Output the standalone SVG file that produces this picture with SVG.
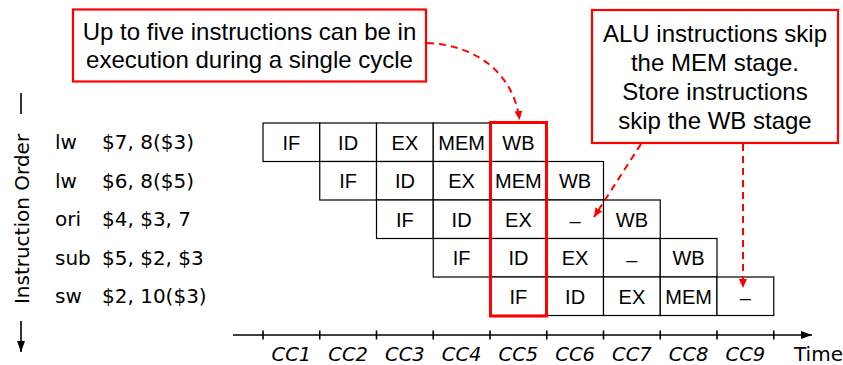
<svg xmlns="http://www.w3.org/2000/svg" width="843" height="365" viewBox="0 0 843 365">
  <style>
    .cell { fill: #ffffff; stroke: #000000; stroke-width: 1.2; }
    .stage { font-family: "Liberation Sans", Arial, sans-serif; font-size: 20px; fill: #000; text-anchor: middle; }
    .note { font-family: "Liberation Sans", Arial, sans-serif; font-size: 24px; fill: #000; text-anchor: middle; }
    .hand { font-family: "Comic Sans MS", "DejaVu Sans", sans-serif; font-size: 20px; fill: #000; }
    .cc { font-family: "Comic Sans MS", "DejaVu Sans", sans-serif; font-size: 19.5px; font-style: italic; fill: #000; text-anchor: middle; }
    .callout { fill: #ffffff; stroke: #ff0000; stroke-width: 2.2; }
    .dash { fill: none; stroke: #ff0000; stroke-width: 2; stroke-dasharray: 7 5; }
    .axis { stroke: #000; stroke-width: 1.6; fill: none; }
  </style>
  <defs>
    <marker id="redHead" markerUnits="userSpaceOnUse" markerWidth="10" markerHeight="10" viewBox="0 0 10 10" refX="9" refY="5" orient="auto">
      <path d="M0,1 L9,5 L0,9 Z" fill="#ff0000"/>
    </marker>
    <marker id="blackHead" markerUnits="userSpaceOnUse" markerWidth="12" markerHeight="10" viewBox="0 0 12 10" refX="11" refY="5" orient="auto">
      <path d="M0,1 L11,5 L0,9 Z" fill="#000"/>
    </marker>
  </defs>

  <!-- vertical "Instruction Order" axis -->
  <g id="instruction-order">
    <line class="axis" x1="21" y1="93" x2="21" y2="114"/>
    <text class="hand" transform="translate(29,219) rotate(-90)" text-anchor="middle" font-size="21">Instruction Order</text>
    <line class="axis" x1="21" y1="321" x2="21" y2="352" marker-end="url(#blackHead)"/>
  </g>

  <!-- instruction listing -->
  <g id="instructions">
    <text class="hand" x="55" y="149">lw</text><text class="hand" x="102" y="149">$7, 8($3)</text>
    <text class="hand" x="55" y="187.5">lw</text><text class="hand" x="102" y="187.5">$6, 8($5)</text>
    <text class="hand" x="55" y="226">ori</text><text class="hand" x="102" y="226">$4, $3, 7</text>
    <text class="hand" x="55" y="264.5">sub</text><text class="hand" x="102" y="264.5">$5, $2, $3</text>
    <text class="hand" x="55" y="303">sw</text><text class="hand" x="102" y="303">$2, 10($3)</text>
  </g>

  <!-- pipeline rows: column width 56.75, row height 38.5 -->
  <g id="row-lw1">
    <rect class="cell" x="263" y="123" width="56.75" height="38.5"/>
    <rect class="cell" x="319.75" y="123" width="56.75" height="38.5"/>
    <rect class="cell" x="376.5" y="123" width="56.75" height="38.5"/>
    <rect class="cell" x="433.25" y="123" width="56.75" height="38.5"/>
    <rect class="cell" x="490" y="123" width="56.75" height="38.5"/>
    <text class="stage" x="291.4" y="149.5">IF</text>
    <text class="stage" x="348.1" y="149.5">ID</text>
    <text class="stage" x="404.9" y="149.5">EX</text>
    <text class="stage" x="461.6" y="149.5">MEM</text>
    <text class="stage" x="518.4" y="149.5">WB</text>
  </g>
  <g id="row-lw2">
    <rect class="cell" x="319.75" y="161.5" width="56.75" height="38.5"/>
    <rect class="cell" x="376.5" y="161.5" width="56.75" height="38.5"/>
    <rect class="cell" x="433.25" y="161.5" width="56.75" height="38.5"/>
    <rect class="cell" x="490" y="161.5" width="56.75" height="38.5"/>
    <rect class="cell" x="546.75" y="161.5" width="56.75" height="38.5"/>
    <text class="stage" x="348.1" y="188">IF</text>
    <text class="stage" x="404.9" y="188">ID</text>
    <text class="stage" x="461.6" y="188">EX</text>
    <text class="stage" x="518.4" y="188">MEM</text>
    <text class="stage" x="575.1" y="188">WB</text>
  </g>
  <g id="row-ori">
    <rect class="cell" x="376.5" y="200" width="56.75" height="38.5"/>
    <rect class="cell" x="433.25" y="200" width="56.75" height="38.5"/>
    <rect class="cell" x="490" y="200" width="56.75" height="38.5"/>
    <rect class="cell" x="546.75" y="200" width="56.75" height="38.5"/>
    <rect class="cell" x="603.5" y="200" width="56.75" height="38.5"/>
    <text class="stage" x="404.9" y="226.5">IF</text>
    <text class="stage" x="461.6" y="226.5">ID</text>
    <text class="stage" x="518.4" y="226.5">EX</text>
    <text class="stage" x="575.1" y="228">–</text>
    <text class="stage" x="631.9" y="226.5">WB</text>
  </g>
  <g id="row-sub">
    <rect class="cell" x="433.25" y="238.5" width="56.75" height="38.5"/>
    <rect class="cell" x="490" y="238.5" width="56.75" height="38.5"/>
    <rect class="cell" x="546.75" y="238.5" width="56.75" height="38.5"/>
    <rect class="cell" x="603.5" y="238.5" width="56.75" height="38.5"/>
    <rect class="cell" x="660.25" y="238.5" width="56.75" height="38.5"/>
    <text class="stage" x="461.6" y="265">IF</text>
    <text class="stage" x="518.4" y="265">ID</text>
    <text class="stage" x="575.1" y="265">EX</text>
    <text class="stage" x="631.9" y="266.5">–</text>
    <text class="stage" x="688.6" y="265">WB</text>
  </g>
  <g id="row-sw">
    <rect class="cell" x="490" y="277" width="56.75" height="38.5"/>
    <rect class="cell" x="546.75" y="277" width="56.75" height="38.5"/>
    <rect class="cell" x="603.5" y="277" width="56.75" height="38.5"/>
    <rect class="cell" x="660.25" y="277" width="56.75" height="38.5"/>
    <rect class="cell" x="717" y="277" width="56.75" height="38.5"/>
    <text class="stage" x="518.4" y="303.5">IF</text>
    <text class="stage" x="575.1" y="303.5">ID</text>
    <text class="stage" x="631.9" y="303.5">EX</text>
    <text class="stage" x="688.6" y="303.5">MEM</text>
    <text class="stage" x="745.4" y="305">–</text>
  </g>

  <!-- highlighted cycle CC5 -->
  <g id="cc5-highlight">
    <rect x="490.5" y="122.5" width="56" height="193.5" fill="none" stroke="#ff0000" stroke-width="3"/>
  </g>

  <!-- time axis -->
  <g id="time-axis">
    <line class="axis" x1="233" y1="335" x2="812" y2="335" marker-end="url(#blackHead)"/>
    <path class="axis" d="M263,330.5V339.5M319.75,330.5V339.5M376.5,330.5V339.5M433.25,330.5V339.5M490,330.5V339.5M546.75,330.5V339.5M603.5,330.5V339.5M660.25,330.5V339.5M717,330.5V339.5M773.75,330.5V339.5"/>
    <text class="cc" x="291.4" y="361">CC1</text>
    <text class="cc" x="348.1" y="361">CC2</text>
    <text class="cc" x="404.9" y="361">CC3</text>
    <text class="cc" x="461.6" y="361">CC4</text>
    <text class="cc" x="518.4" y="361">CC5</text>
    <text class="cc" x="575.1" y="361">CC6</text>
    <text class="cc" x="631.9" y="361">CC7</text>
    <text class="cc" x="688.6" y="361">CC8</text>
    <text class="cc" x="745.4" y="361">CC9</text>
    <text class="hand" x="794" y="361" font-size="19">Time</text>
  </g>

  <!-- callouts -->
  <g id="note-five">
    <rect class="callout" x="73" y="9.5" width="353" height="72"/>
    <text class="note" x="249.5" y="39.5">Up to five instructions can be in</text>
    <text class="note" x="249.5" y="68">execution during a single cycle</text>
  </g>
  <g id="note-skip">
    <rect class="callout" x="592" y="10" width="246" height="133"/>
    <text class="note" x="715" y="41.5">ALU instructions skip</text>
    <text class="note" x="715" y="70.5">the MEM stage.</text>
    <text class="note" x="715" y="99.5">Store instructions</text>
    <text class="note" x="715" y="128.5">skip the WB stage</text>
  </g>

  <!-- connectors -->
  <g id="connectors">
    <path class="dash" d="M427,43 C478,45 514,75 519.5,120" marker-end="url(#redHead)"/>
    <path class="dash" d="M641,144 L594,217" marker-end="url(#redHead)"/>
    <path class="dash" d="M743,144 L743,288" marker-end="url(#redHead)"/>
  </g>
</svg>
